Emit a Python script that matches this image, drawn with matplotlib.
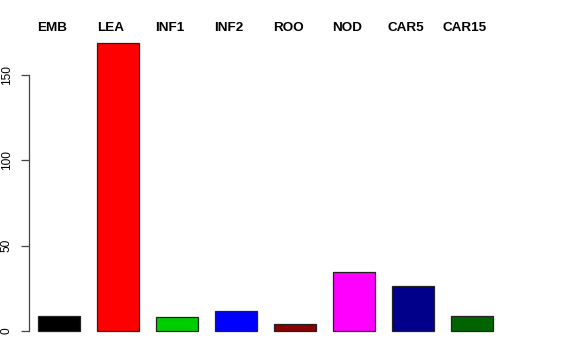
import matplotlib
matplotlib.use("Agg")
import matplotlib.pyplot as plt
import matplotlib.transforms as mtransforms

categories = ["EMB", "LEA", "INF1", "INF2", "ROO", "NOD", "CAR5", "CAR15"]
values = [8.8, 168.9, 8.1, 11.7, 4.1, 34.4, 26.4, 8.8]
colors = ["#000000", "#FF0000", "#00CD00", "#0000FF", "#8B0000", "#FF00FF", "#00008B", "#006400"]
yticks = [0, 50, 100, 150]

W, H = 576, 360
fig = plt.figure(figsize=(W / 100, H / 100), dpi=100)
left_px, right_px, bottom_px, top_px = 29, 505, 331, 30
ax = fig.add_axes([left_px / W, (H - bottom_px) / H, (right_px - left_px) / W, (bottom_px - top_px) / H])

pitch = 59.0
x = list(range(len(categories)))
ax.bar(x, values, width=41.5 / pitch, color=colors, edgecolor="#222222", linewidth=0.9, clip_on=False)

ax.set_xlim(-30 / pitch, (right_px - left_px - 30) / pitch)
ax.set_ylim(0, (bottom_px - top_px) / (256 / 150))

for sp in ["top", "right", "bottom"]:
    ax.spines[sp].set_visible(False)
ax.spines["left"].set_bounds(0, 150)
ax.spines["left"].set_color("#444444")
ax.spines["left"].set_linewidth(0.9)
ax.set_xticks([])
ax.set_yticks(yticks)
ax.set_yticklabels([str(t) for t in yticks], rotation=90, va="center",
                   fontsize=8.6, family="Liberation Sans")
ax.tick_params(axis="y", length=5.8, width=0.9, color="#444444", pad=6)

trans = mtransforms.blended_transform_factory(ax.transData, fig.transFigure)
for i, c in enumerate(categories):
    ax.text(i - 7 / pitch, (H - 28) / H, c, transform=trans, ha="center", va="center",
            fontsize=9.7, fontweight="bold", family="Liberation Sans")

fig.savefig("out.png", dpi=100, facecolor="white")
